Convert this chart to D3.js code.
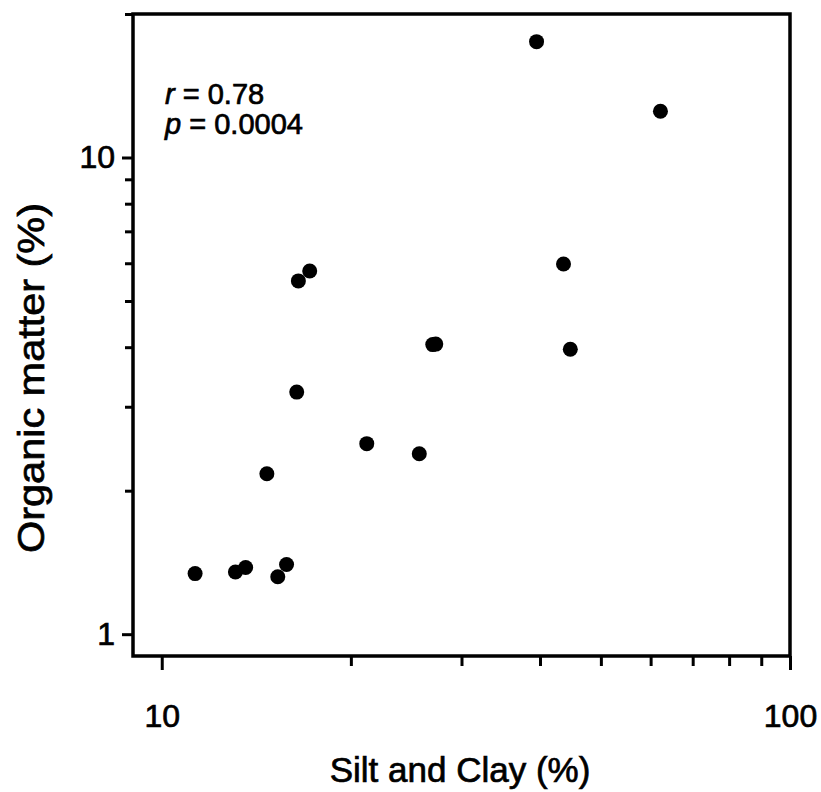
<!DOCTYPE html>
<html lang="en">
<head>
    <meta charset="UTF-8">
    <title>Organic matter vs Silt and Clay</title>
    <script src="https://d3js.org/d3.v7.min.js"></script>
    <style>
        body { margin: 0; background: #fff; }
        svg { display: block; }
        text { font-family: "Liberation Sans", Arial, sans-serif; fill: #000; stroke: #000; stroke-width: 0.7px; }
        .axis .domain { display: none; }
        .axis line { stroke: #000; stroke-width: 3; }
        .axis text { font-size: 32px; }
    </style>
</head>
<body>
    <svg width="821" height="792"></svg>

    <script>
        // data
        const siltClay = [11.3, 13.1, 13.6, 15.3, 15.8, 14.7, 16.4, 16.5, 17.2, 21.2, 25.7, 27.0, 27.3, 39.5, 62.2, 43.6, 44.7];
        const organic  = [1.34, 1.35, 1.38, 1.32, 1.40, 2.17, 3.22, 5.51, 5.78, 2.51, 2.39, 4.05, 4.06, 17.5, 12.5, 5.98, 3.96];

        const xTicks = [10, 20, 30, 40, 50, 60, 70, 80, 90, 100];
        const yTicks = [1, 2, 3, 4, 5, 6, 7, 8, 9, 10, 20];
        const xLabels = [10, 100];
        const yLabels = [1, 10];

        const plotLeft = 133, plotRight = 790, plotTop = 14, plotBottom = 656;

        const svg = d3.select("svg");

        const x = d3.scaleLog().domain([9, 100]).range([plotLeft, plotRight]);
        const y = d3.scaleLog().domain([0.9, 20]).range([plotBottom, plotTop]);

        // y axis ticks
        const yAxis = svg.append("g")
            .attr("class", "axis")
            .attr("transform", "translate(" + plotLeft + ",0)")
            .call(d3.axisLeft(y)
                .tickValues(yTicks)
                .tickSize(8)
                .tickPadding(10)
                .tickFormat(function(d) { return yLabels.indexOf(d) >= 0 ? d : ""; }));
        yAxis.selectAll(".tick")
            .filter(function(d) { return yLabels.indexOf(d) >= 0; })
            .select("line").attr("x2", -11);

        // x axis ticks
        const xAxis = svg.append("g")
            .attr("class", "axis")
            .attr("transform", "translate(0," + plotBottom + ")")
            .call(d3.axisBottom(x)
                .tickValues(xTicks)
                .tickSize(10)
                .tickPadding(38)
                .tickFormat(function(d) { return xLabels.indexOf(d) >= 0 ? d : ""; }));
        xAxis.selectAll(".tick")
            .filter(function(d) { return xLabels.indexOf(d) >= 0; })
            .select("line").attr("y2", 14);

        // frame
        svg.append("rect")
            .attr("x", plotLeft)
            .attr("y", plotTop)
            .attr("width", plotRight - plotLeft)
            .attr("height", plotBottom - plotTop)
            .attr("fill", "none")
            .attr("stroke", "#000")
            .attr("stroke-width", 3.5);

        // points
        svg.selectAll(".dot")
            .data(siltClay)
            .enter()
            .append("circle")
            .attr("class", "dot")
            .attr("cx", function(d) { return x(d); })
            .attr("cy", function(d, i) { return y(organic[i]); })
            .attr("r", 7.5)
            .attr("fill", "#000");

        // stats
        const stats = svg.append("text")
            .attr("x", 165)
            .attr("y", 104)
            .style("font-size", "29px");
        stats.append("tspan").style("font-style", "italic").text("r");
        stats.append("tspan").text(" = 0.78");

        const stats2 = svg.append("text")
            .attr("x", 165)
            .attr("y", 134)
            .style("font-size", "29px");
        stats2.append("tspan").style("font-style", "italic").text("p");
        stats2.append("tspan").text(" = 0.0004");

        // axis titles
        svg.append("text")
            .attr("x", 460)
            .attr("y", 782)
            .attr("text-anchor", "middle")
            .style("font-size", "35px")
            .text("Silt and Clay (%)");

        svg.append("text")
            .attr("transform", "translate(44,378) rotate(-90)")
            .attr("text-anchor", "middle")
            .attr("textLength", 350)
            .attr("lengthAdjust", "spacingAndGlyphs")
            .style("font-size", "36px")
            .text("Organic matter (%)");
    </script>
</body>
</html>
